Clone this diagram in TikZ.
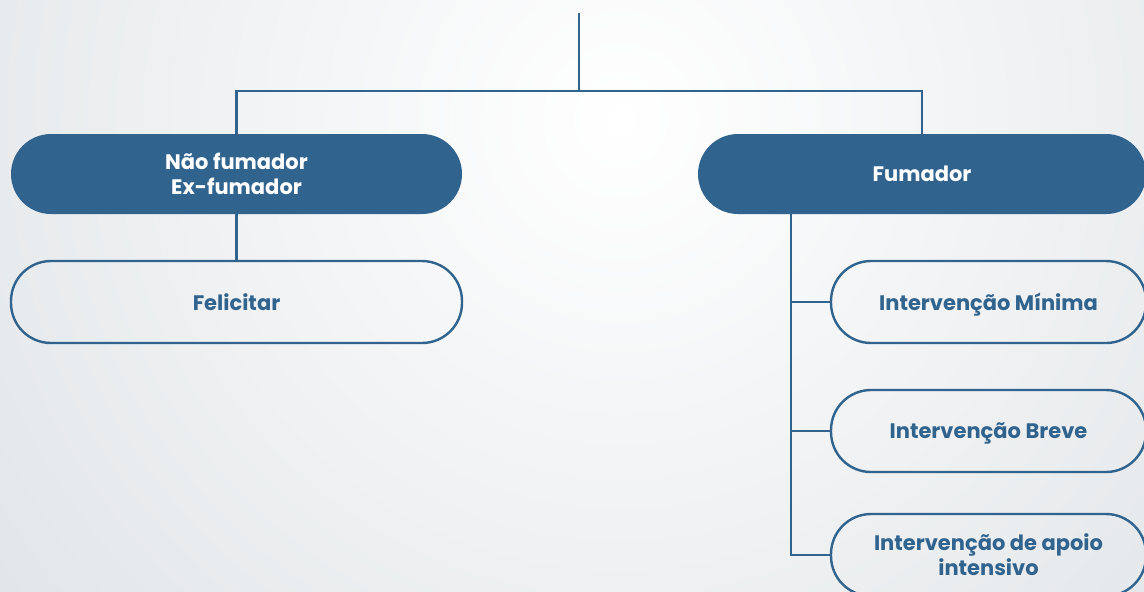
\documentclass[tikz,border=0pt]{standalone}
\usepackage{fontspec}
\setmainfont{Poppins}
\usepackage{tikz}
\usetikzlibrary{shapes,calc,positioning,backgrounds}
\definecolor{azul}{RGB}{48,99,142}
\definecolor{fundo}{RGB}{222,226,229}

\begin{document}
\begin{tikzpicture}[x=0.5pt, y=-0.5pt,
  every node/.style={font=\bfseries\fontsize{10.5}{12.5}\selectfont, align=center, text depth=0pt},
  cheio/.style={rectangle, rounded corners=20pt, fill=azul, text=white, minimum height=40pt},
  vazio/.style={rectangle, rounded corners=20pt, draw=azul, line width=1.2pt, text=azul, minimum height=41pt, minimum width=157.5pt},
  liga/.style={draw=azul, line width=1.2pt}]
\useasboundingbox (0,0) rectangle (1144,591);
\fill[white] (0,0) rectangle (1144,591);
\begin{scope}
\clip (0,0) rectangle (1144,591);
\shade[inner color=white, outer color=fundo] (620,120) circle (900);
\end{scope}

\node[cheio, minimum width=225.5pt] (nao) at (236.5,174) {Não fumador\\Ex-fumador};
\node[cheio, minimum width=224pt] (fum) at (922,174) {Fumador};
\node[vazio, minimum width=225.5pt] (fel) at (236.5,302) {Felicitar};

\node[vazio] (minima) at (988.5,302) {Intervenção Mínima};
\node[vazio] (breve) at (988.5,431) {Intervenção Breve};
\node[vazio] (apoio) at (988.5,555) {Intervenção de apoio\\intensivo};

\coordinate (topo) at (579,13);
\coordinate (ramo) at (579,91);
\coordinate (tronco) at (791,214);

\draw[liga] (topo) -- (ramo);
\draw[liga] (nao.north) |- (ramo) -| (fum.north);
\draw[liga] (nao.south) -- (fel.north);
\draw[liga] (tronco) |- (apoio.west);
\draw[liga] (tronco |- minima.west) -- (minima.west);
\draw[liga] (tronco |- breve.west) -- (breve.west);
\end{tikzpicture}
\end{document}
